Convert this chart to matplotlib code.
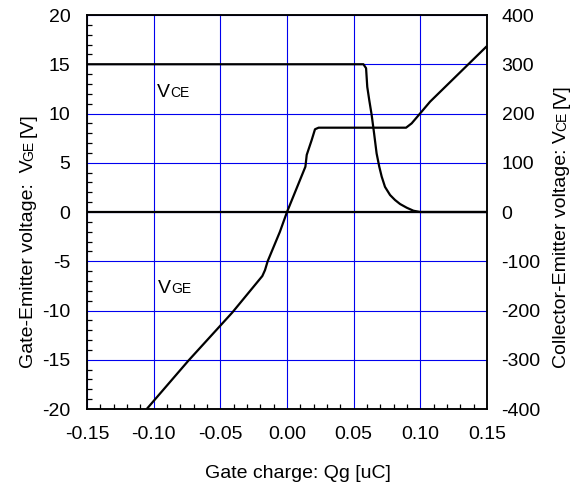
import numpy as np
import matplotlib
matplotlib.use('Agg')
import matplotlib.pyplot as plt
from matplotlib.ticker import MultipleLocator
from matplotlib.transforms import offset_copy
from matplotlib.textpath import TextToPath
from matplotlib.font_manager import FontProperties

plt.rcParams['font.family'] = ['Liberation Sans', 'DejaVu Sans']
plt.rcParams['axes.unicode_minus'] = False

# Gate-emitter voltage vs gate charge
qg_vge = [-0.1052, -0.074, -0.041, -0.0185, -0.0165, -0.0145, -0.0053,
          0.0, 0.0138, 0.0148, 0.0185, 0.021, 0.0237, 0.0893, 0.0935, 0.0998,
          0.1073, 0.15]
vge = [-20.0, -15.1, -10.2, -6.5, -5.9, -5.0, -2.0,
       0.0, 4.6, 5.8, 7.3, 8.4, 8.56, 8.56, 9.0, 10.0,
       11.2, 16.85]

# Collector-emitter voltage vs gate charge (right axis)
qg_vce = [-0.15, 0.0573, 0.0593, 0.0602, 0.0617, 0.0635, 0.0653, 0.0672,
          0.0692, 0.071, 0.0735, 0.0773, 0.081, 0.0848, 0.0898, 0.0948,
          0.0998, 0.15]
vce = [300, 300, 292, 254, 227, 197, 160, 119,
       92, 72, 51, 34.5, 24.4, 16.2, 8.7, 2.6,
       0, 0]

FONT = 14
SMALL = 10
GRID = '#0000ee'

_ttp = TextToPath()


def text_width(s, size):
    """Advance width of s in points, trailing spaces included."""
    prop = FontProperties(family='Liberation Sans', size=size)
    w_full = _ttp.get_text_width_height_descent('|' + s + '|', prop, ismath=False)[0]
    w_bars = _ttp.get_text_width_height_descent('||', prop, ismath=False)[0]
    return w_full - w_bars


def draw_run(fig, x, y, pieces, transform, rotation=0):
    """Draw text pieces of mixed size along one baseline."""
    ang = np.deg2rad(rotation)
    pos = 0.0
    for s, size in pieces:
        tr = offset_copy(transform, fig=fig, x=pos * np.cos(ang),
                         y=pos * np.sin(ang), units='points')
        fig.text(x, y, s.rstrip(), fontsize=size, transform=tr,
                 rotation=rotation, rotation_mode='anchor',
                 ha='left', va='baseline')
        pos += text_width(s, size)


W, H = 576, 484
fig = plt.figure(figsize=(W / 100, H / 100), dpi=100)
ax = fig.add_axes([87 / W, 1 - 409 / H, 400 / W, 394 / H])
ax2 = ax.twinx()

ax.set_xlim(-0.15, 0.15)
ax.set_ylim(-20, 20)
ax2.set_ylim(-400, 400)

ax.xaxis.set_major_locator(MultipleLocator(0.05))
ax.xaxis.set_minor_locator(MultipleLocator(0.01))
ax.yaxis.set_major_locator(MultipleLocator(5))
ax.yaxis.set_minor_locator(MultipleLocator(1))
ax2.yaxis.set_major_locator(MultipleLocator(100))

ax.set_xticklabels([f'{v:.2f}' for v in ax.get_xticks()])
ax.grid(True, which='major', color=GRID, linewidth=0.8)
ax.set_axisbelow(True)

ax.tick_params(which='major', direction='in', length=0, labelsize=FONT)
ax.tick_params(axis='x', which='major', pad=12)
ax.tick_params(axis='y', which='major', pad=12)
ax.tick_params(which='minor', direction='in', length=3.5, width=0.9,
               top=False, right=False)
ax2.tick_params(which='both', length=0, labelsize=FONT, pad=10.5)

for sp in list(ax.spines.values()) + list(ax2.spines.values()):
    sp.set_linewidth(1.1)
    sp.set_color('black')

ax.axhline(0, color='black', linewidth=1.6)
ax.plot(qg_vge, vge, color='black', linewidth=1.6, solid_capstyle='butt')
ax2.plot(qg_vce, vce, color='black', linewidth=1.6, solid_capstyle='butt')

# curve names inside the plot
draw_run(fig, -0.0972, 11.7, [('V', FONT), ('CE', SMALL)], ax.transData)
draw_run(fig, -0.0965, -8.25, [('V', FONT), ('GE', SMALL)], ax.transData)

# axis titles
draw_run(fig, 33 / W, 1 - 368 / H,
         [('Gate-Emitter voltage:  V', FONT), ('GE ', SMALL), ('[V]', FONT)],
         fig.transFigure, rotation=90)
draw_run(fig, 566 / W, 1 - 368 / H,
         [('Collector-Emitter voltage: V', FONT), ('CE ', SMALL), ('[V]', FONT)],
         fig.transFigure, rotation=90)
fig.text(298 / W, 1 - 478 / H, 'Gate charge: Qg [uC]', fontsize=FONT,
         ha='center', va='baseline')

fig.savefig('out.png', dpi=100)
